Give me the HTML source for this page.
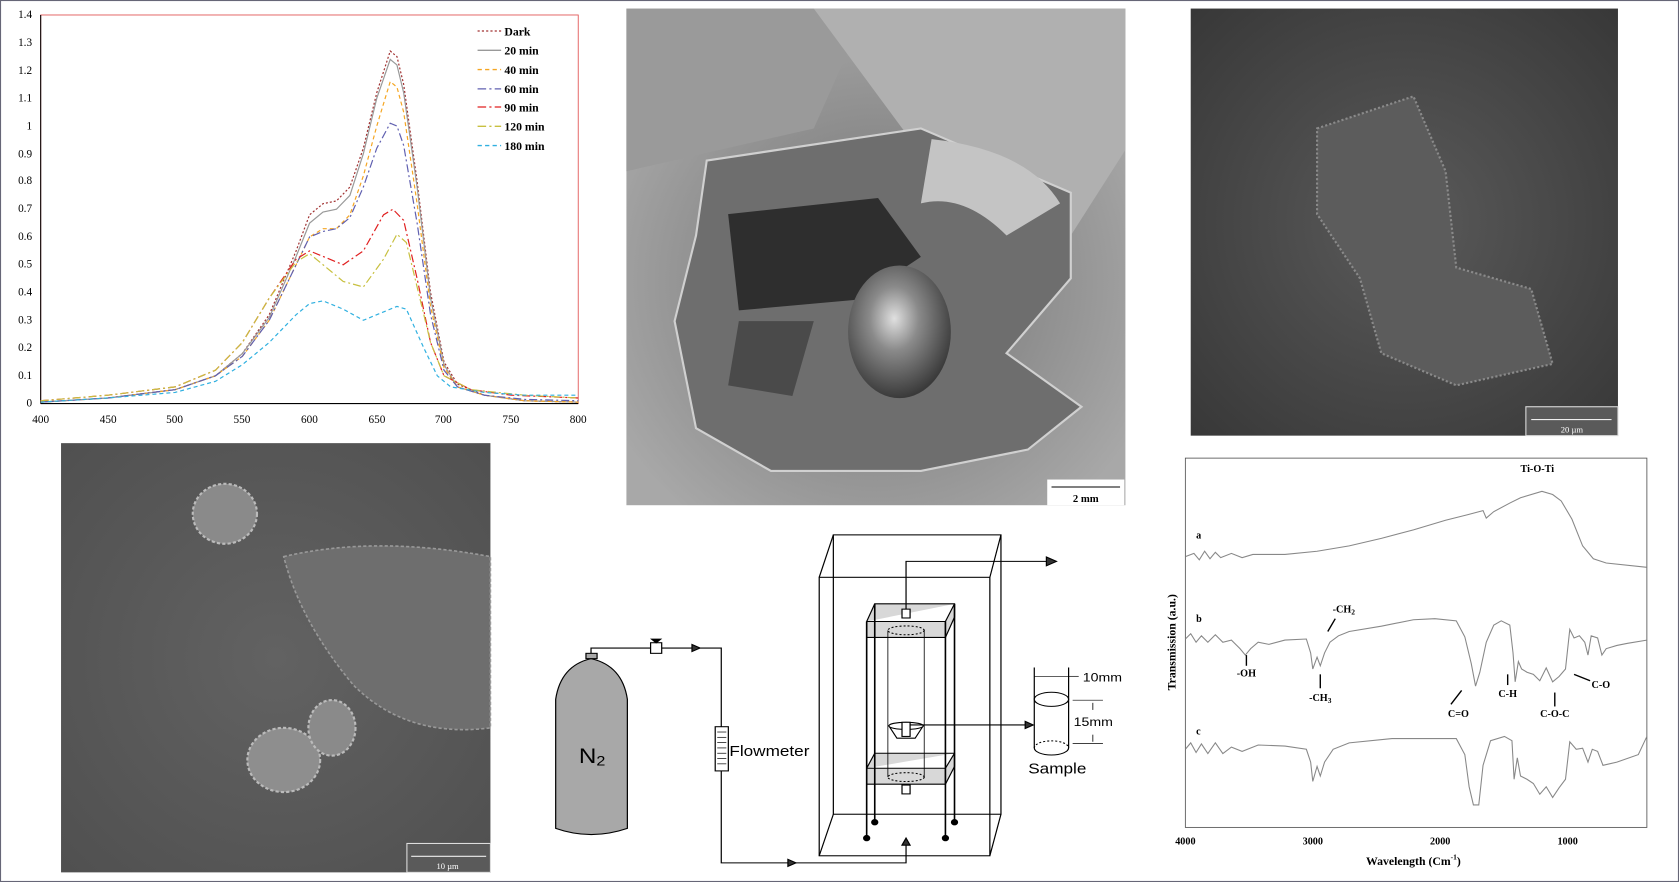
<!DOCTYPE html>
<html><head><meta charset="utf-8"><style>
html,body{margin:0;padding:0;background:#fff;}
svg{display:block;}
</style></head><body>
<svg width="1679" height="882" viewBox="0 0 1568 824" preserveAspectRatio="none" xmlns="http://www.w3.org/2000/svg" font-family="Liberation Serif, serif">
<defs>
<radialGradient id="gc" cx="0.5" cy="0.55" r="0.6"><stop offset="0" stop-color="#6a6a6a"/><stop offset="0.5" stop-color="#8c8c8c"/><stop offset="1" stop-color="#a8a8a8"/></radialGradient>
<radialGradient id="gr" cx="0.5" cy="0.5" r="0.7"><stop offset="0" stop-color="#5a5a5a"/><stop offset="1" stop-color="#383838"/></radialGradient>
<radialGradient id="gl" cx="0.5" cy="0.5" r="0.7"><stop offset="0" stop-color="#626262"/><stop offset="1" stop-color="#505050"/></radialGradient>
<radialGradient id="ball" cx="0.45" cy="0.4" r="0.6"><stop offset="0" stop-color="#e0e0e0"/><stop offset="0.4" stop-color="#8a8a8a"/><stop offset="1" stop-color="#3a3a3a"/></radialGradient>
</defs>
<rect x="0.5" y="0.5" width="1567" height="823" fill="#fff" stroke="#667" stroke-width="1"/>

<!-- UV-vis chart -->
<rect x="38" y="14" width="502" height="363" fill="#fff" stroke="#e05050" stroke-width="0.8"/>
<line x1="38" y1="14" x2="38" y2="377" stroke="#000"/>
<line x1="38" y1="377" x2="540" y2="377" stroke="#000"/>
<g font-size="10.5" text-anchor="end" fill="#000">
<text x="30" y="380">0</text><text x="30" y="354">0.1</text><text x="30" y="328">0.2</text><text x="30" y="302">0.3</text><text x="30" y="276">0.4</text><text x="30" y="250">0.5</text><text x="30" y="224">0.6</text><text x="30" y="198">0.7</text><text x="30" y="172">0.8</text><text x="30" y="147">0.9</text><text x="30" y="121">1</text><text x="30" y="95">1.1</text><text x="30" y="69">1.2</text><text x="30" y="43">1.3</text><text x="30" y="17">1.4</text>
</g>
<g font-size="10.5" text-anchor="middle">
<text x="38" y="395">400</text><text x="101" y="395">450</text><text x="163" y="395">500</text><text x="226" y="395">550</text><text x="289" y="395">600</text><text x="352" y="395">650</text><text x="414" y="395">700</text><text x="477" y="395">750</text><text x="540" y="395">800</text>
</g>
<g transform="translate(38,377) scale(1.2555,-259.3)" fill="none" stroke-width="1.2">
<polyline vector-effect="non-scaling-stroke" stroke="#a03030" stroke-dasharray="2,2" points="0,0.005 50,0.02 100,0.05 130,0.1 150,0.18 170,0.32 190,0.55 200,0.68 210,0.72 220,0.73 230,0.78 240,0.92 250,1.12 260,1.27 265,1.25 270,1.15 280,0.8 290,0.4 300,0.15 310,0.07 330,0.03 360,0.01 400,0.005"/>
<polyline vector-effect="non-scaling-stroke" stroke="#999" points="0,0.005 50,0.02 100,0.05 130,0.1 150,0.18 170,0.31 190,0.53 200,0.65 210,0.69 220,0.7 230,0.75 240,0.9 250,1.1 260,1.24 265,1.22 270,1.12 280,0.78 290,0.38 300,0.14 310,0.06 330,0.03 360,0.01 400,0.005"/>
<polyline vector-effect="non-scaling-stroke" stroke="#f5a623" stroke-dasharray="4,3" points="0,0.005 50,0.02 100,0.05 130,0.1 150,0.17 170,0.3 190,0.5 200,0.6 210,0.63 220,0.63 230,0.68 240,0.82 250,1.0 260,1.16 265,1.14 270,1.05 280,0.72 290,0.35 300,0.13 310,0.06 330,0.03 360,0.01 400,0.005"/>
<polyline vector-effect="non-scaling-stroke" stroke="#6060b0" stroke-dasharray="8,3,2,3" points="0,0.005 50,0.02 100,0.05 130,0.1 150,0.17 170,0.3 190,0.5 200,0.6 210,0.62 220,0.63 230,0.67 240,0.78 250,0.92 260,1.01 265,1.0 270,0.93 280,0.65 290,0.32 300,0.12 310,0.06 330,0.03 360,0.015 400,0.01"/>
<polyline vector-effect="non-scaling-stroke" stroke="#e02020" stroke-dasharray="8,3,2,3" points="0,0.01 50,0.03 100,0.06 130,0.12 150,0.22 170,0.38 190,0.52 200,0.55 210,0.53 225,0.5 240,0.55 255,0.68 262,0.7 270,0.66 280,0.45 290,0.22 300,0.1 320,0.05 350,0.03 400,0.02"/>
<polyline vector-effect="non-scaling-stroke" stroke="#c8c040" stroke-dasharray="8,3,2,3" points="0,0.01 50,0.03 100,0.06 130,0.12 150,0.22 170,0.38 190,0.51 200,0.54 210,0.5 225,0.44 240,0.42 255,0.52 265,0.61 272,0.58 280,0.42 290,0.22 300,0.1 320,0.05 360,0.03 400,0.02"/>
<polyline vector-effect="non-scaling-stroke" stroke="#30b0e0" stroke-dasharray="4,3" points="0,0.005 50,0.02 100,0.04 130,0.08 150,0.14 170,0.22 190,0.32 200,0.36 210,0.37 225,0.34 240,0.3 255,0.33 265,0.35 272,0.34 285,0.2 295,0.1 305,0.06 330,0.04 360,0.03 400,0.03"/>
</g>
<g font-size="11" font-weight="bold">
<g stroke-width="1.2" fill="none">
<line x1="446" y1="29" x2="468" y2="29" stroke="#a03030" stroke-dasharray="2,2"/>
<line x1="446" y1="47" x2="468" y2="47" stroke="#999"/>
<line x1="446" y1="65" x2="468" y2="65" stroke="#f5a623" stroke-dasharray="4,3"/>
<line x1="446" y1="83" x2="468" y2="83" stroke="#6060b0" stroke-dasharray="8,3,2,3"/>
<line x1="446" y1="100" x2="468" y2="100" stroke="#e02020" stroke-dasharray="8,3,2,3"/>
<line x1="446" y1="118" x2="468" y2="118" stroke="#c8c040" stroke-dasharray="8,3,2,3"/>
<line x1="446" y1="136" x2="468" y2="136" stroke="#30b0e0" stroke-dasharray="4,3"/>
</g>
<text x="471" y="33">Dark</text><text x="471" y="51">20 min</text><text x="471" y="69">40 min</text><text x="471" y="87">60 min</text><text x="471" y="104">90 min</text><text x="471" y="122">120 min</text><text x="471" y="140">180 min</text>
</g>

<!-- SEM center -->
<rect x="585" y="8" width="466" height="464" fill="url(#gc)"/>
<path d="M585,8 L760,8 L800,30 L760,120 L585,160 Z" fill="#9a9a9a"/>
<path d="M760,8 L1051,8 L1051,140 L1000,220 L930,160 L850,130 Z" fill="#b0b0b0"/>
<path d="M660,150 L860,120 L1000,180 L1000,260 L940,330 L1010,380 L960,420 L860,440 L720,440 L650,400 L630,300 L650,220 Z" fill="#6e6e6e" stroke="#d0d0d0" stroke-width="2"/>
<path d="M680,200 L820,185 L860,240 L800,280 L690,290 Z" fill="#2e2e2e"/>
<path d="M690,300 L760,300 L740,370 L680,360 Z" fill="#4a4a4a"/>
<ellipse cx="840" cy="310" rx="48" ry="62" fill="url(#ball)"/>
<path d="M870,130 Q960,140 990,190 L940,220 Q900,180 860,190 Z" fill="#c4c4c4"/>
<rect x="978" y="448" width="72" height="24" fill="#fff"/>
<line x1="982" y1="455" x2="1046" y2="455" stroke="#000"/>
<text x="1014" y="469" font-size="10" font-weight="bold" text-anchor="middle">2 mm</text>

<!-- SEM right top -->
<rect x="1112" y="8" width="399" height="399" fill="url(#gr)"/>
<path d="M1230,120 L1320,90 L1350,160 L1360,250 L1430,270 L1450,340 L1360,360 L1290,330 L1270,260 L1230,200 Z" fill="#5c5c5c" stroke="#8a8a8a" stroke-width="2" stroke-dasharray="2,2"/>
<rect x="1425" y="380" width="86" height="27" fill="#5a5a5a" stroke="#ddd" stroke-width="1"/>
<line x1="1430" y1="392" x2="1505" y2="392" stroke="#eee"/>
<text x="1468" y="404" font-size="8" fill="#fff" text-anchor="middle">20 µm</text>

<!-- SEM bottom left -->
<rect x="57" y="414" width="401" height="401" fill="url(#gl)"/>
<ellipse cx="210" cy="480" rx="30" ry="28" fill="#8a8a8a" stroke="#bbb" stroke-width="2" stroke-dasharray="3,2"/>
<path d="M265,520 Q350,500 458,520 L458,680 Q380,690 330,640 Q280,580 265,520 Z" fill="#6e6e6e" stroke="#999" stroke-width="1.5" stroke-dasharray="3,2"/>
<ellipse cx="265" cy="710" rx="34" ry="30" fill="#8e8e8e" stroke="#bbb" stroke-width="2" stroke-dasharray="3,2"/>
<ellipse cx="310" cy="680" rx="22" ry="26" fill="#8a8a8a" stroke="#bbb" stroke-width="2" stroke-dasharray="3,2"/>
<rect x="380" y="788" width="78" height="27" fill="#5a5a5a" stroke="#ddd"/>
<line x1="384" y1="800" x2="454" y2="800" stroke="#eee"/>
<text x="418" y="812" font-size="8" fill="#fff" text-anchor="middle">10 µm</text>

<!-- Apparatus diagram -->
<g transform="translate(-86,-14) scale(1.165,1.02)">
<g transform="scale(0.93389,0.93424)">
<g transform="translate(70.67,69.33) scale(0.8667)" fill="none" stroke="#000" stroke-width="1.2" font-family="Liberation Sans, sans-serif">
<path d="M560,874 L560,728 Q565,690 595,682 Q626,690 631,728 L631,874 Q595,888 560,874 Z" fill="#a8a8a8"/>
<rect x="590" y="676" width="11" height="6" fill="#a8a8a8"/>
<text x="583" y="800" font-size="24" fill="#000" stroke="none">N<tspan font-size="16" dy="3">2</tspan></text>
<path d="M595,676 L595,670 L724,670 L724,913 L907,913 L907,889"/>
<rect x="654" y="664" width="11" height="12" fill="#fff"/>
<path d="M655,660 L664,660 L659.5,664 Z" fill="#000"/>
<path d="M695,666 L703,670 L695,674 Z" fill="#333"/>
<path d="M790,909 L798,913 L790,917 Z" fill="#333"/>
<path d="M903,893 L907,885 L911,893 Z" fill="#333"/>
<rect x="718" y="759" width="13" height="50" fill="#fff"/>
<g stroke-width="0.8"><line x1="720" y1="765" x2="729" y2="765"/><line x1="720" y1="771" x2="729" y2="771"/><line x1="720" y1="777" x2="729" y2="777"/><line x1="720" y1="783" x2="729" y2="783"/><line x1="720" y1="789" x2="729" y2="789"/><line x1="720" y1="795" x2="729" y2="795"/><line x1="720" y1="801" x2="729" y2="801"/></g>
<text x="732" y="792" font-size="17" fill="#000" stroke="none">Flowmeter</text>
<rect x="821" y="590" width="169" height="315"/>
<rect x="835" y="542" width="166" height="316"/>
<line x1="821" y1="590" x2="835" y2="542"/><line x1="990" y1="590" x2="1001" y2="542"/><line x1="821" y1="905" x2="835" y2="858"/><line x1="990" y1="905" x2="1001" y2="858"/>
<path d="M868,640 L876,620 L955,620 L955,635 L946,658 L868,658 Z M868,640 L946,640 L955,620 M946,640 L946,658" fill="#d8d8d8"/>
<path d="M868,806 L876,789 L955,789 L955,804 L946,824 L868,824 Z M868,806 L946,806 L955,789 M946,806 L946,824" fill="#d8d8d8"/>
<ellipse cx="907" cy="650" rx="18" ry="5" stroke-dasharray="2,2"/>
<ellipse cx="907" cy="816" rx="18" ry="5" stroke-dasharray="2,2"/>
<line x1="889" y1="650" x2="889" y2="816" stroke-width="0.8"/><line x1="925" y1="650" x2="925" y2="816" stroke-width="0.8"/>
<rect x="903" y="626" width="8" height="10" fill="#fff"/>
<rect x="903" y="825" width="8" height="10" fill="#fff"/>
<line x1="868" y1="640" x2="868" y2="884" stroke-width="1.6"/><line x1="876" y1="620" x2="876" y2="866" stroke-width="1.6"/>
<line x1="946" y1="640" x2="946" y2="884" stroke-width="1.6"/><line x1="955" y1="620" x2="955" y2="866" stroke-width="1.6"/>
<circle cx="868" cy="885" r="3" fill="#000"/><circle cx="876" cy="867" r="3" fill="#000"/><circle cx="946" cy="885" r="3" fill="#000"/><circle cx="955" cy="867" r="3" fill="#000"/>
<path d="M907,626 L907,572 L1049,572"/>
<path d="M1046,567 L1056,572 L1046,577 Z" fill="#333"/>
<path d="M890,758 L924,758 L916,772 L898,772 Z" fill="#fff"/>
<ellipse cx="907" cy="758" rx="17" ry="4" fill="#fff"/>
<rect x="903" y="754" width="8" height="16" fill="#fff"/>
<line x1="911" y1="757" x2="1027" y2="757"/>
<path d="M1025,753 L1033,757 L1025,761 Z" fill="#333"/>
<line x1="1034" y1="692" x2="1034" y2="783"/><line x1="1068" y1="692" x2="1068" y2="783"/>
<ellipse cx="1051" cy="728" rx="17" ry="8" fill="#fff"/>
<path d="M1034,783 A17,8 0 0 0 1068,783"/>
<path d="M1034,783 A17,8 0 0 1 1068,783" stroke-dasharray="2,2"/>
<line x1="1034" y1="702" x2="1068" y2="702" stroke-width="0.8"/>
<line x1="1068" y1="702" x2="1078" y2="702" stroke-width="0.8"/>
<line x1="1072" y1="729" x2="1102" y2="729" stroke-width="0.8"/><line x1="1072" y1="778" x2="1102" y2="778" stroke-width="0.8"/>
<line x1="1092" y1="732" x2="1092" y2="740" stroke-width="0.8"/><line x1="1092" y1="768" x2="1092" y2="776" stroke-width="0.8"/>
<text x="1082" y="708" font-size="14" fill="#000" stroke="none">10mm</text>
<text x="1073" y="758" font-size="14" fill="#000" stroke="none">15mm</text>
<text x="1028" y="812" font-size="17" fill="#000" stroke="none">Sample</text>
</g>
</g>
</g>

<!-- FTIR -->
<rect x="1107" y="428" width="431" height="345" fill="#fff" stroke="#555" stroke-width="0.8"/>
<g stroke="#888" fill="none" stroke-width="1">
<polyline points="1107,520 1115,517 1120,523 1125,515 1130,522 1135,516 1140,521 1150,517 1160,521 1170,518 1200,518 1230,515 1260,510 1290,503 1320,495 1350,486 1370,481 1385,477 1388,484 1395,478 1410,470 1420,465 1440,459 1450,462 1458,468 1468,485 1478,510 1488,522 1500,526 1538,530"/>
<polyline points="1107,597 1112,592 1117,600 1122,594 1128,600 1135,593 1142,600 1150,598 1158,606 1163,612 1168,606 1175,600 1185,602 1200,598 1220,597 1224,610 1226,625 1230,614 1233,622 1237,610 1242,600 1250,594 1260,590 1290,585 1320,579 1340,578 1360,580 1368,595 1374,620 1378,641 1382,628 1388,600 1395,584 1402,580 1410,584 1413,610 1415,637 1418,618 1421,625 1426,628 1432,630 1438,636 1444,624 1450,637 1456,632 1462,625 1466,588 1470,596 1475,594 1480,600 1483,612 1486,594 1492,596 1496,612 1500,606 1510,603 1520,601 1538,598"/>
<polyline points="1107,700 1112,694 1117,703 1122,695 1128,704 1135,694 1142,704 1150,698 1160,702 1175,696 1200,697 1220,700 1224,712 1226,730 1230,716 1233,725 1237,712 1245,700 1260,694 1300,690 1340,690 1360,690 1368,705 1372,735 1376,752 1381,752 1385,715 1392,692 1405,688 1412,692 1414,728 1417,708 1420,725 1426,728 1432,732 1438,742 1444,735 1450,745 1456,736 1462,728 1466,693 1472,700 1478,699 1483,712 1487,700 1492,702 1497,715 1510,712 1530,705 1538,688"/>
</g>
<g font-size="9.5" font-weight="bold" fill="#000">
<text x="1420" y="441">Ti-O-Ti</text>
<text x="1117" y="503">a</text><text x="1117" y="581">b</text><text x="1117" y="686">c</text>
<text x="1164" y="632" text-anchor="middle">-OH</text>
<text x="1233" y="655" text-anchor="middle">-CH<tspan font-size="7" dy="2">3</tspan></text>
<text x="1255" y="572" text-anchor="middle">-CH<tspan font-size="7" dy="2">2</tspan></text>
<text x="1362" y="670" text-anchor="middle">C=O</text>
<text x="1408" y="651" text-anchor="middle">C-H</text>
<text x="1452" y="670" text-anchor="middle">C-O-C</text>
<text x="1495" y="643" text-anchor="middle">C-O</text>
</g>
<g stroke="#000" stroke-width="1.3" fill="none">
<line x1="1164" y1="622" x2="1164" y2="612"/><line x1="1233" y1="643" x2="1233" y2="630"/>
<line x1="1240" y1="590" x2="1247" y2="578"/><line x1="1355" y1="658" x2="1365" y2="645"/>
<line x1="1408" y1="640" x2="1408" y2="630"/><line x1="1452" y1="660" x2="1452" y2="647"/>
<line x1="1485" y1="636" x2="1470" y2="630"/>
</g>
<g font-size="9.5" font-weight="bold" text-anchor="middle">
<text x="1107" y="789">4000</text><text x="1226" y="789">3000</text><text x="1345" y="789">2000</text><text x="1464" y="789">1000</text>
<text x="1320" y="808" font-size="11">Wavelength (Cm<tspan font-size="7" dy="-5">-1</tspan><tspan dy="5">)</tspan></text>
<text x="0" y="0" font-size="11" transform="translate(1098,600) rotate(-90)">Transmission (a.u.)</text>
</g>
</svg>
</body></html>
